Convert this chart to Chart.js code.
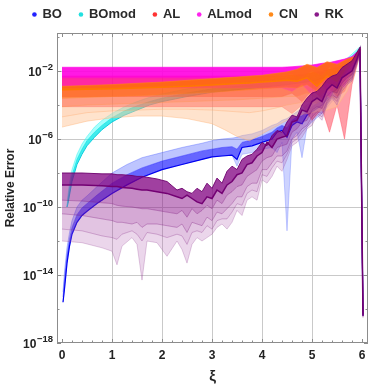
<!DOCTYPE html>
<html>
<head>
<meta charset="utf-8">
<script src="https://cdn.jsdelivr.net/npm/chart.js@4.4.1/dist/chart.umd.min.js"></script>
<style>
    body { margin: 0; background: #fff; }
    #wrap { width: 374px; height: 388px; }
</style>
</head>
<body>
<div id="wrap"><canvas id="my-chart"></canvas></div>
<script>
// all series are stored as log10 of the relative error

const xTickValues = [0, 1, 2, 3, 4, 5, 6];
const yMajorExps = [-2, -6, -10, -14, -18];
const yTickExps = [-18, -16, -14, -12, -10, -8, -6, -4, -2, 0];

const legendNames = ['BO', 'BOmod', 'AL', 'ALmod', 'CN', 'RK'];
const legendColors = ['#2222ff', '#22e0e0', '#ff3333', '#ff22ee', '#ff8a1a', '#8a1a8a'];

// AL and ALmod
const xiAL = [0, 0.5, 1, 1.5, 2, 2.5, 3, 3.5, 4, 4.4, 4.6, 4.8, 5.0, 5.2, 5.35, 5.5, 5.65, 5.8, 5.97];
const almodTop = [-1.78, -1.78, -1.78, -1.78, -1.78, -1.78, -1.78, -1.78, -1.78, -1.78, -1.75, -1.7, -1.65, -1.55, -1.5, -1.4, -1.3, -1.15, -0.7];
const almodMid = [-2.4, -2.4, -2.4, -2.4, -2.4, -2.4, -2.4, -2.35, -2.35, -2.3, -2.2, -2.35, -2.0, -2.25, -1.8, -2.0, -1.6, -1.45, -0.8];
const almodLow = [-3.0, -3.0, -3.0, -3.0, -3.0, -3.0, -3.0, -3.0, -3.0, -3.0, -3.2, -2.8, -3.4, -2.7, -3.6, -2.6, -3.0, -1.9, -0.9];
const alTop = [-2.3, -2.3, -2.3, -2.3, -2.3, -2.3, -2.3, -2.3, -2.3, -2.3, -2.25, -2.2, -2.1, -2.0, -1.9, -1.8, -1.6, -1.4, -0.7];
const alMid = [-3.5, -3.5, -3.5, -3.5, -3.5, -3.5, -3.5, -3.5, -3.5, -3.5, -3.3, -3.8, -3.1, -3.6, -3.0, -3.5, -3.2, -2.2, -0.8];
const alLow = [-4.1, -4.1, -4.1, -4.1, -4.1, -4.1, -4.1, -4.1, -4.1, -4.1, -4.5, -4.0, -4.9, -4.2, -5.6, -4.0, -6.0, -2.8, -0.9];

// CN
const xiCN = [0, 0.5, 1, 1.5, 2, 2.5, 3, 3.25, 3.5, 3.75, 4, 4.25, 4.5, 4.7, 4.9, 5.1, 5.3, 5.5, 5.7, 5.85, 5.97];
const cn0 = [-2.9, -2.85, -2.8, -2.72, -2.65, -2.55, -2.45, -2.4, -2.35, -2.3, -2.25, -2.15, -2.05, -1.9, -1.6, -1.8, -1.45, -1.6, -1.3, -1.15, -0.6];
const cn1 = [-3.1, -3.08, -3.05, -3.0, -2.95, -2.9, -2.82, -2.78, -2.74, -2.7, -2.65, -2.6, -2.55, -2.6, -2.4, -2.9, -2.3, -2.6, -1.7, -1.3, -0.7];
const cn2 = [-3.6, -3.55, -3.5, -3.45, -3.4, -3.32, -3.25, -3.2, -3.15, -3.1, -3.05, -3.0, -2.95, -3.0, -2.8, -3.2, -2.7, -2.9, -2.0, -1.45, -0.75];
const cn3 = [-4.1, -4.0, -3.95, -3.9, -3.85, -3.8, -3.75, -3.72, -3.7, -3.65, -3.6, -3.55, -3.5, -3.5, -3.3, -3.6, -3.1, -3.3, -2.4, -1.6, -0.8];
const cn4 = [-4.7, -4.45, -4.35, -4.3, -4.25, -4.25, -4.3, -4.35, -4.4, -4.45, -4.35, -4.2, -4.0, -3.9, -3.8, -3.9, -3.5, -3.6, -2.7, -1.8, -0.85];
const cn5 = [-5.3, -4.95, -4.75, -4.65, -4.65, -4.8, -5.1, -5.45, -5.85, -6.1, -5.7, -5.3, -4.9, -4.6, -4.5, -4.4, -4.3, -4.1, -3.2, -2.2, -0.9];

// BOmod
const xiBOmod = [0.1, 0.12, 0.15, 0.2, 0.3, 0.4, 0.5, 0.65, 0.8, 1, 1.25, 1.5, 1.75, 2, 2.5, 3, 3.5, 4, 4.5, 5, 5.5, 5.97];
const bomod0 = [-10.0, -9.3, -8.6, -7.8, -6.9, -6.3, -5.85, -5.3, -4.9, -4.5, -4.1, -3.8, -3.55, -3.35, -3.05, -2.85, -2.7, -2.55, -2.4, -2.2, -1.8, -0.55];
const bomod1 = [-10.0, -9.55, -8.95, -8.15, -7.2, -6.6, -6.1, -5.6, -5.2, -4.75, -4.35, -4.05, -3.8, -3.6, -3.3, -3.05, -2.9, -2.75, -2.6, -2.4, -2.0, -0.65];
const bomod2 = [-10.0, -9.8, -9.3, -8.5, -7.5, -6.9, -6.4, -5.9, -5.45, -5.0, -4.6, -4.3, -4.0, -3.8, -3.5, -3.25, -3.1, -2.95, -2.8, -2.6, -2.2, -0.75];

// BO
const xiBO = [0.02, 0.05, 0.1, 0.15, 0.2, 0.3, 0.4, 0.5, 0.7, 1.0, 1.3, 1.6, 2.0, 2.4, 2.8, 3.0, 3.2, 3.4, 3.5, 3.6, 3.8, 4.0, 4.2, 4.3, 4.4, 4.5, 4.6, 4.7, 4.8, 4.9, 5.0, 5.2, 5.4, 5.6, 5.8, 5.9, 5.96, 6.02];
const bo0 = [-15.0, -13.8, -12.4, -11.5, -10.8, -10.0, -9.6, -9.35, -8.8, -8.0, -7.5, -7.1, -6.8, -6.5, -6.25, -6.1, -6.0, -5.95, -5.9, -5.8, -5.7, -5.5, -5.2, -5.1, -4.9, -4.8, -4.6, -4.4, -4.2, -4.0, -3.8, -3.4, -2.8, -2.2, -1.8, -1.1, -0.7, -16.3];
const bo1 = [-15.3, -14.3, -12.85, -11.9, -11.2, -10.45, -10.05, -9.8, -9.3, -8.6, -8.1, -7.7, -7.3, -7.0, -6.7, -6.6, -6.5, -6.45, -6.6, -6.2, -6.05, -5.85, -5.6, -5.35, -5.2, -5.35, -4.9, -4.7, -4.65, -4.3, -4.1, -3.7, -3.05, -2.5, -2.0, -1.25, -0.8, -16.35];
const bo2 = [-15.6, -14.8, -13.3, -12.3, -11.6, -10.9, -10.5, -10.25, -9.8, -9.2, -8.7, -8.25, -7.8, -7.5, -7.2, -7.05, -7.0, -6.95, -7.2, -6.5, -6.4, -6.2, -6.0, -5.6, -5.5, -5.9, -5.2, -5.0, -5.1, -4.6, -4.4, -4.0, -3.3, -2.8, -2.2, -1.4, -0.9, -16.4];
const bo3 = [-15.6, -14.8, -13.3, -12.3, -11.6, -10.9, -10.5, -10.25, -9.8, -9.2, -8.7, -8.25, -7.8, -7.5, -7.2, -7.05, -7.0, -6.95, -7.6, -6.9, -6.8, -6.6, -6.5, -6.8, -6.2, -11.4, -6.0, -5.6, -7.1, -5.3, -5.0, -4.5, -3.8, -3.2, -2.5, -1.5, -0.95, -16.4];

// RK
const xiRK = [0, 0.4, 0.8, 1.0, 1.1, 1.2, 1.4, 1.5, 1.6, 1.7, 1.9, 2.1, 2.3, 2.4, 2.5, 2.6, 2.7, 2.8, 2.9, 3.0, 3.1, 3.2, 3.3, 3.4, 3.5, 3.6, 3.7, 3.8, 3.9, 4.0, 4.1, 4.2, 4.3, 4.4, 4.5, 4.6, 4.7, 4.8, 4.9, 5.0, 5.1, 5.2, 5.3, 5.4, 5.5, 5.6, 5.7, 5.8, 5.9, 5.96, 6.02];
const rk0 = [-8.0, -8.0, -8.05, -8.05, -8.1, -8.1, -8.15, -8.2, -8.2, -8.25, -8.35, -8.5, -9.0, -8.9, -9.1, -9.2, -8.9, -9.1, -8.6, -8.9, -8.3, -8.6, -7.9, -7.6, -7.8, -7.2, -7.0, -6.9, -6.6, -6.2, -6.4, -5.8, -5.5, -5.6, -5.0, -4.6, -4.7, -4.0, -3.6, -3.3, -3.2, -2.9, -2.5, -2.3, -2.2, -1.8, -1.6, -1.4, -0.9, -0.6, -16.3];
const rk1 = [-8.7, -8.7, -8.75, -8.8, -8.8, -8.85, -8.9, -8.95, -9.0, -9.0, -9.1, -9.2, -9.4, -9.5, -9.3, -9.5, -9.7, -9.8, -9.4, -9.5, -9.0, -9.2, -8.7, -8.5, -8.1, -8.0, -7.5, -7.4, -7.0, -6.8, -6.2, -6.5, -6.0, -5.9, -5.8, -5.0, -4.9, -4.3, -4.4, -3.8, -3.6, -3.8, -3.1, -2.8, -3.0, -2.4, -2.2, -2.0, -1.3, -0.75, -16.4];
const rk2 = [-9.6, -9.65, -9.75, -9.8, -9.9, -9.95, -10.0, -10.05, -10.1, -10.1, -10.2, -10.3, -10.4, -10.2, -10.6, -10.1, -10.4, -10.2, -9.9, -10.1, -9.6, -9.8, -9.3, -9.1, -8.8, -8.7, -8.2, -8.0, -7.8, -7.3, -7.1, -7.0, -6.5, -6.4, -6.3, -5.6, -5.4, -5.0, -4.9, -4.3, -4.1, -4.2, -3.5, -3.2, -3.3, -2.7, -2.4, -2.2, -1.4, -0.85, -16.4];
const rk3 = [-10.4, -10.5, -10.7, -10.8, -10.9, -10.9, -11.0, -10.9, -11.2, -11.0, -11.0, -11.1, -11.2, -11.0, -11.5, -10.9, -11.0, -11.1, -10.6, -10.8, -10.3, -10.4, -10.1, -9.8, -9.4, -9.4, -8.8, -8.6, -8.6, -7.8, -7.8, -7.4, -7.0, -7.0, -6.7, -6.0, -5.8, -5.4, -5.2, -4.7, -4.4, -4.5, -3.8, -3.4, -3.6, -2.9, -2.6, -2.4, -1.5, -0.9, -16.45];
const rk4 = [-11.3, -11.4, -11.7, -11.8, -11.9, -11.6, -11.4, -11.6, -12.0, -11.5, -11.6, -11.8, -11.6, -11.7, -12.2, -11.5, -11.4, -11.5, -11.1, -11.3, -10.8, -10.7, -10.7, -10.3, -9.8, -9.9, -9.2, -9.0, -9.1, -8.1, -8.2, -7.7, -7.3, -7.4, -6.9, -6.2, -6.0, -5.6, -5.3, -4.9, -4.5, -4.7, -3.9, -3.5, -3.8, -3.0, -2.7, -2.5, -1.55, -0.95, -16.5];
const rk5 = [-12.0, -12.1, -12.4, -12.6, -13.4, -12.3, -11.8, -12.2, -14.3, -12.0, -12.1, -12.9, -12.0, -12.5, -13.3, -12.2, -11.8, -12.0, -11.8, -11.6, -11.2, -11.0, -11.3, -10.9, -10.2, -10.5, -9.6, -9.4, -9.6, -8.4, -8.6, -8.2, -7.6, -7.9, -7.2, -6.4, -6.2, -5.9, -5.4, -5.2, -4.6, -4.9, -4.0, -3.6, -4.0, -3.2, -2.8, -2.6, -1.6, -1.0, -16.5];

function makeFamily(xs, lines, bands, strokes, widths) {
    let sets = [];
    for (let i = 0; i < lines.length; i++) {
        sets.push({
            data: xs.map((x, k) => ({ x: x, y: Math.pow(10, lines[i][k]) })),
            borderColor: strokes[i],
            borderWidth: widths[i],
            backgroundColor: i > 0 ? bands[i - 1] : 'transparent',
            fill: i > 0 ? '-1' : false,
            pointRadius: 0,
            tension: 0
        });
    }
    return sets;
}

// first dataset is drawn on top, so RK goes first and BO last
let datasets = [].concat(
    makeFamily(xiRK, [rk0, rk1, rk2, rk3, rk4, rk5],
        ['rgba(128,0,128,0.75)', 'rgba(140,20,140,0.5)', 'rgba(150,40,150,0.4)', 'rgba(160,60,160,0.3)', 'rgba(175,90,175,0.25)'],
        ['rgba(110,0,110,0.9)', 'rgb(115,0,115)', 'rgba(130,30,130,0.5)', 'rgba(130,30,130,0.45)', 'rgba(140,50,140,0.4)', 'rgba(150,70,150,0.35)'],
        [1, 1.5, 0.8, 0.8, 0.8, 0.8]),
    makeFamily(xiCN, [cn0, cn1, cn2, cn3, cn4, cn5],
        ['rgba(255,115,0,0.85)', 'rgba(255,125,20,0.6)', 'rgba(255,150,80,0.45)', 'rgba(255,175,120,0.45)', 'rgba(255,200,155,0.5)'],
        ['rgba(255,130,30,0.7)', 'rgb(255,120,0)', 'rgba(255,130,40,0.6)', 'rgba(255,150,80,0.5)', 'rgba(255,170,110,0.5)', 'rgba(255,180,120,0.55)'],
        [0.8, 1.5, 0.8, 0.8, 0.8, 0.8]),
    makeFamily(xiAL, [almodTop, almodMid, almodLow],
        ['rgba(255,0,225,0.9)', 'rgba(255,0,200,0.6)'],
        ['rgba(255,0,230,0.8)', 'rgba(255,0,210,0.6)', 'rgba(255,40,200,0.5)'],
        [0.8, 0.8, 0.8]),
    makeFamily(xiAL, [alTop, alMid, alLow],
        ['rgba(255,40,40,0.7)', 'rgba(255,60,80,0.5)'],
        ['rgba(255,40,40,0.7)', 'rgba(255,50,60,0.6)', 'rgba(255,70,90,0.5)'],
        [0.8, 0.8, 0.8]),
    makeFamily(xiBOmod, [bomod0, bomod1, bomod2],
        ['rgba(60,255,250,0.45)', 'rgba(0,230,230,0.75)'],
        ['rgba(60,240,240,0.6)', 'rgba(0,225,225,0.8)', 'rgba(0,200,220,0.9)'],
        [0.8, 0.8, 1]),
    makeFamily(xiBO, [bo0, bo1, bo2, bo3],
        ['rgba(70,90,255,0.35)', 'rgba(0,0,255,0.6)', 'rgba(90,110,255,0.3)'],
        ['rgba(80,100,255,0.5)', 'rgba(40,40,255,0.6)', 'rgb(0,0,240)', 'rgba(90,110,255,0.4)'],
        [0.8, 0.8, 1.2, 0.8])
);

const frameColor = '#8c8c8c';
const gridColor = '#c9c9c9';

const decorPlugin = {
    id: 'decor',
    afterDraw(chart) {
        let ctx = chart.ctx;
        let a = chart.chartArea;
        let xs = chart.scales.x;
        let ys = chart.scales.y;
        ctx.save();

        // frame
        ctx.strokeStyle = frameColor;
        ctx.lineWidth = 1;
        ctx.strokeRect(Math.round(a.left) + 0.5, Math.round(a.top) + 0.5, Math.round(a.right - a.left) - 1, Math.round(a.bottom - a.top) - 1);

        // inner ticks
        ctx.beginPath();
        for (let i = 0; i <= 30; i++) {
            let px = Math.round(xs.getPixelForValue(i / 5)) + 0.5;
            let len = i % 5 === 0 ? 4 : 2.5;
            ctx.moveTo(px, a.bottom); ctx.lineTo(px, a.bottom - len);
            ctx.moveTo(px, a.top); ctx.lineTo(px, a.top + len);
        }
        yTickExps.forEach(e => {
            let py = Math.round(ys.getPixelForValue(Math.pow(10, e))) + 0.5;
            let len = yMajorExps.includes(e) ? 4 : 2.5;
            ctx.moveTo(a.left, py); ctx.lineTo(a.left + len, py);
            ctx.moveTo(a.right, py); ctx.lineTo(a.right - len, py);
        });
        ctx.stroke();

        // y tick labels as 10 with a raised exponent
        ctx.fillStyle = '#222';
        ctx.textBaseline = 'alphabetic';
        yMajorExps.forEach(e => {
            let py = ys.getPixelForValue(Math.pow(10, e));
            let sup = '\u2212' + Math.abs(e);
            ctx.font = 'bold 9.5px "Liberation Sans", Arial, sans-serif';
            let supW = ctx.measureText(sup).width;
            let right = a.left - 4;
            ctx.textAlign = 'right';
            ctx.fillText(sup, right, py - 1);
            ctx.font = 'bold 12px "Liberation Sans", Arial, sans-serif';
            ctx.fillText('10', right - supW - 0.5, py + 4.5);
        });

        // legend
        ctx.font = 'bold 13px "Liberation Sans", Arial, sans-serif';
        ctx.textAlign = 'left';
        ctx.textBaseline = 'middle';
        let widths = legendNames.map(n => ctx.measureText(n).width);
        let total = 0;
        widths.forEach((w, i) => { total += 8 + w + (i < widths.length - 1 ? 19 : 0); });
        let x = 189 - total / 2;
        legendNames.forEach((n, i) => {
            ctx.fillStyle = legendColors[i];
            ctx.beginPath();
            ctx.arc(x, 14.5, 2.3, 0, Math.PI * 2);
            ctx.fill();
            ctx.fillStyle = '#2a2a2a';
            ctx.fillText(n, x + 8, 14);
            x += 8 + widths[i] + 19;
        });
        ctx.restore();
    }
};

let massChart = new Chart(document.getElementById('my-chart').getContext('2d'), {
    type: 'line',
    data: { datasets: datasets },
    plugins: [decorPlugin],
    options: {
        responsive: true,
        maintainAspectRatio: false,
        animation: false,
        layout: { padding: { top: 33, right: 6, left: 0, bottom: 0 } },
        plugins: {
            legend: { display: false },
            tooltip: { enabled: false },
            filler: { propagate: false }
        },
        scales: {
            x: {
                type: 'linear',
                min: -0.1,
                max: 6.12,
                afterBuildTicks: (scale) => { scale.ticks = xTickValues.map(v => ({ value: v })); },
                afterFit: (scale) => { scale.height = 45; },
                border: { display: false },
                grid: {
                    drawTicks: false,
                    color: (c) => (c.tick && c.tick.value >= 1 && c.tick.value <= 5) ? gridColor : 'transparent'
                },
                ticks: {
                    padding: 5,
                    color: '#222',
                    font: { family: '"Liberation Sans", Arial, sans-serif', size: 12, weight: 'bold' }
                },
                title: {
                    display: true,
                    text: 'ξ',
                    color: '#222',
                    padding: { top: 0, bottom: 2 },
                    font: { family: '"Liberation Sans", Arial, sans-serif', size: 15, weight: 'bold' }
                }
            },
            y: {
                type: 'logarithmic',
                min: 1e-18,
                max: 1.72,
                afterBuildTicks: (scale) => { scale.ticks = yTickExps.map(e => ({ value: Math.pow(10, e) })); },
                afterFit: (scale) => { scale.width = 57; },
                border: { display: false },
                grid: {
                    drawTicks: false,
                    color: (c) => {
                        if (!c.tick) return 'transparent';
                        let e = Math.round(Math.log10(c.tick.value));
                        return (yMajorExps.includes(e) && e > -18) ? gridColor : 'transparent';
                    }
                },
                ticks: { display: false },
                title: {
                    display: true,
                    text: 'Relative Error',
                    color: '#222',
                    padding: { top: 3, bottom: 0 },
                    font: { family: '"Liberation Sans", Arial, sans-serif', size: 12, weight: 'bold' }
                }
            }
        }
    }
});
</script>
</body>
</html>
